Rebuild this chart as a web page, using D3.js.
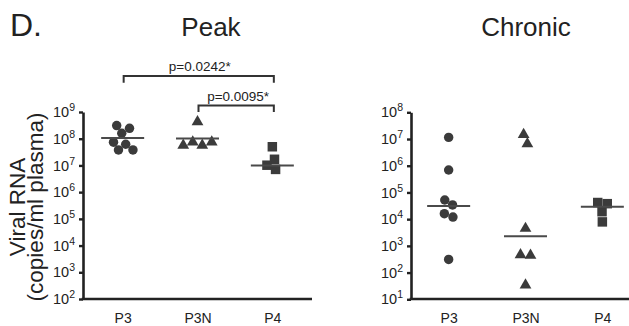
<!DOCTYPE html>
<html><head><meta charset="utf-8">
<script src="https://cdn.jsdelivr.net/npm/d3@7"></script>
<style>
body{margin:0;background:#fff}
text{font-family:"Liberation Sans",Arial,Helvetica,sans-serif;fill:#222}
</style>
</head><body>
<svg id="chart" width="629" height="326"></svg>
<script>
// ---------- data ----------
const categories = ["P3", "P3N", "P4"];
const peakP3  = [2.45e8, 1.6e8, 3.1e8, 6.2e7, 3.8e7, 3.8e7, 7.4e7];
const peakP3N = [4.7e8, 6.2e7, 8.1e7, 8.1e7, 6.2e7];
const peakP4  = [5.0e7, 1.7e7, 1.02e7, 7.1e6];
const peakMedians = [1.07e8, 1.02e8, 1.0e7];
const chronicP3  = [1.15e7, 6.9e5, 5.2e4, 3.4e4, 1.6e4, 1.2e4, 310];
const chronicP3N = [1.6e7, 7.2e6, 4.9e3, 480, 500, 37];
const chronicP4  = [4.2e4, 3.8e4, 1.9e4, 7.9e3];
const chronicMedians = [3.1e4, 2.3e3, 2.9e4];
const peakTicks = [1e2, 1e3, 1e4, 1e5, 1e6, 1e7, 1e8, 1e9];
const chronicTicks = [1e1, 1e2, 1e3, 1e4, 1e5, 1e6, 1e7, 1e8];
const comparisons = [["P3", "P4"], ["P3N", "P4"]];
const pLabels = ["p=0.0242*", "p=0.0095*"];
const panelTitles = ["Peak", "Chronic"];
const yTitle = ["Viral RNA", "(copies/ml plasma)"];

// ---------- drawing ----------
const svg = d3.select("#chart");
const MARK = "#3b3b3b";
const AX = "#222";
const symbols = [d3.symbolCircle, d3.symbolTriangle, d3.symbolSquare];
const symSizes = [70, 60, 90];
const collideR = [4.6, 5.0, 4.8];

function drawPanel(cfg) {
  const x = d3.scalePoint().domain(categories).range(cfg.xRange).padding(cfg.pad);
  const y = d3.scaleLog().domain(cfg.yDomain).range(cfg.yRange);
  const g = svg.append("g");

  // y axis
  const ya = g.append("g").attr("transform", `translate(${cfg.xRange[0]},0)`)
    .call(d3.axisLeft(y).tickValues(cfg.ticks).tickSize(4).tickSizeOuter(0).tickPadding(4)
      .tickFormat(() => "10"));
  ya.select(".domain").attr("stroke", AX).attr("stroke-width", 2.6);
  ya.selectAll(".tick line").attr("stroke", AX).attr("stroke-width", 2.4);
  ya.selectAll(".tick text").attr("font-size", 14.5).attr("fill", AX)
    .append("tspan").attr("dy", -6).attr("font-size", 10.5)
    .text(d => Math.round(Math.log10(d)));

  // x axis
  const xa = g.append("g").attr("transform", `translate(0,299)`)
    .call(d3.axisBottom(x).tickSize(0).tickSizeOuter(0).tickPadding(14));
  xa.select(".domain").attr("stroke", AX).attr("stroke-width", 2.6)
    .attr("d", `M${cfg.xRange[0] - 1.3},0H${cfg.xEnd}`);
  xa.selectAll(".tick text").attr("font-size", 14).attr("fill", AX);

  // points, beeswarm-style via force layout
  cfg.series.forEach((vals, i) => {
    const cx = x(categories[i]);
    const nodes = vals.map((v, j) => ({ v, fy: y(v), x: cx + (j % 2 ? 1 : -1) * (j * 0.7) }));
    const sim = d3.forceSimulation(nodes)
      .force("x", d3.forceX(cx).strength(0.08))
      .force("c", d3.forceCollide(collideR[i]).strength(1))
      .stop();
    for (let k = 0; k < 300; k++) sim.tick();
    g.selectAll(null).data(nodes).join("path")
      .attr("d", d3.symbol().type(symbols[i]).size(symSizes[i]))
      .attr("transform", d => `translate(${d.x},${y(d.v) + (i === 1 ? 1 : 0)})`)
      .attr("fill", MARK);
    // median line
    g.append("line")
      .attr("x1", cx - 21.5).attr("x2", cx + 21.5)
      .attr("y1", y(cfg.medians[i])).attr("y2", y(cfg.medians[i]))
      .attr("stroke", "#4a4a4a").attr("stroke-width", 2);
  });

  // title
  g.append("text").attr("x", cfg.titleX).attr("y", 36).attr("text-anchor", "middle")
    .attr("font-size", 26).text(cfg.title);
  return x;
}

const xPeak = drawPanel({
  xRange: [83, 312], xEnd: 312, pad: 0.53,
  yDomain: [1e2, 1e9], yRange: [299, 112], ticks: peakTicks,
  series: [peakP3, peakP3N, peakP4], medians: peakMedians,
  title: panelTitles[0], titleX: 211
});
drawPanel({
  xRange: [411, 640], xEnd: 640, pad: 0.49,
  yDomain: [1e1, 1e8], yRange: [299.3, 112.3], ticks: chronicTicks,
  series: [chronicP3, chronicP3N, chronicP4], medians: chronicMedians,
  title: panelTitles[1], titleX: 526
});

// significance brackets
const bracketY = [76, 105.5];
const legLen = [6.7, 6.5];
comparisons.forEach((pair, i) => {
  const x1 = xPeak(pair[0]) + 1, x2 = xPeak(pair[1]) + 1.5;
  svg.append("path")
    .attr("d", `M${x1},${bracketY[i] + legLen[i]}V${bracketY[i]}H${x2}V${bracketY[i] + legLen[i]}`)
    .attr("fill", "none").attr("stroke", "#333").attr("stroke-width", 2);
  svg.append("text").attr("x", (x1 + x2) / 2 + (i ? 2 : 1)).attr("y", bracketY[i] - 5)
    .attr("text-anchor", "middle").attr("font-size", 13.5).text(pLabels[i]);
});

// panel letter
svg.append("text").attr("x", 10).attr("y", 36).attr("font-size", 32).text("D.");

// y-axis title
const yt = svg.append("text").attr("transform", "translate(25,207) rotate(-90)")
  .attr("text-anchor", "middle").attr("font-size", 22.5);
yt.append("tspan").attr("x", 0).attr("y", 0).text(yTitle[0]);
yt.append("tspan").attr("x", 0).attr("y", 17.5).text(yTitle[1]);
</script>
</body></html>
